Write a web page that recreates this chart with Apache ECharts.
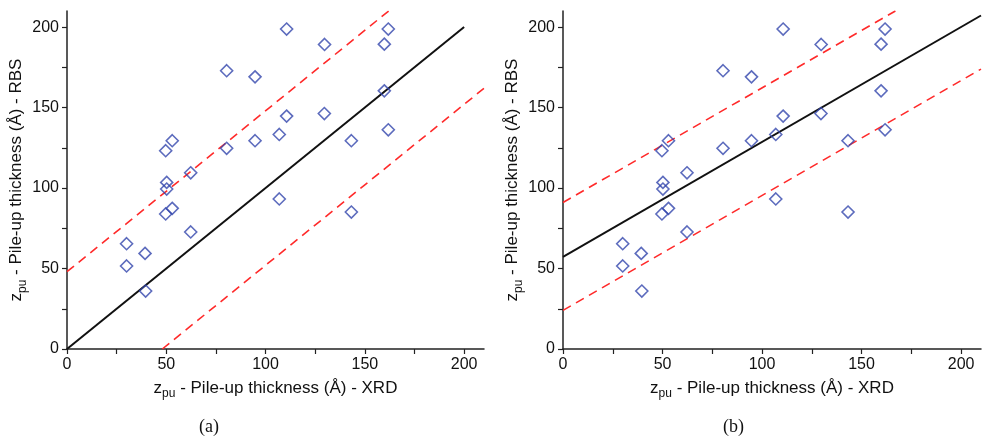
<!DOCTYPE html>
<html>
<head>
<meta charset="utf-8">
<script src="https://cdn.jsdelivr.net/npm/echarts@6/dist/echarts.min.js"></script>
<style>
  html, body { margin: 0; padding: 0; background: #fff; }
  #chart { width: 982px; height: 440px; }
</style>
</head>
<body>
<div id="chart"></div>
<script>
// same measurements in both panels: [XRD, RBS]
var xrd = [30, 30, 39.3, 39.6, 49.7, 53, 50.2, 50.2, 62.3, 49.7, 53, 62.3,
           80.4, 80.4, 94.7, 94.7, 110.6, 110.6, 106.9, 106.9, 129.7, 129.6,
           143.2, 143.2, 159.8, 159.8, 161.8, 161.8];
var rbs = [65.4, 51.6, 59.4, 36, 123.2, 129.4, 103.5, 99.4, 109.5, 83.9, 87.4, 72.7,
           172.9, 124.7, 169.1, 129.4, 198.8, 144.7, 133.3, 93.2, 189.2, 146.3,
           129.4, 85.1, 189.4, 160.4, 198.8, 136.2];

// (a) y = x with +/- 48 band
var fitA = [[0, 0], [200, 200]];
var upperA = [[0, 48], [162, 210]];
var lowerA = [[48, 0], [210, 162]];

// (b) linear fit with band
var fitB = [[0, 57.3], [210, 207.2]];
var upperB = [[0, 91], [167, 210]];
var lowerB = [[0, 24], [210, 173.9]];

var tickValues = [0, 25, 50, 75, 100, 125, 150, 175, 200];
var labelValues = [0, 50, 100, 150, 200];

var points = xrd.map(function (x, i) { return [x, rbs[i]]; });

var richName = {
    m: { fontSize: 17, lineHeight: 24, verticalAlign: 'middle', color: '#111' },
    s: { fontSize: 12, lineHeight: 10, verticalAlign: 'bottom', color: '#111' }
};

function makeAxis(idx, isX) {
    return {
        type: 'value',
        gridIndex: idx,
        min: 0,
        max: 210,
        name: isX ? '{m|z}{s|pu}{m| - Pile-up thickness (Å) - XRD}'
                  : '{m|z}{s|pu}{m| - Pile-up thickness (Å) - RBS}',
        nameLocation: 'middle',
        nameGap: isX ? 27 : 36,
        nameTextStyle: { fontFamily: 'Liberation Sans', rich: richName },
        axisLine: { show: true, onZero: false, lineStyle: { color: '#222', width: 1.5 } },
        axisTick: { show: true, inside: false, length: 5, customValues: tickValues,
                    lineStyle: { color: '#222', width: 1.2 } },
        axisLabel: { customValues: labelValues, margin: 8, fontSize: 16,
                     fontFamily: 'Liberation Sans', color: '#111' },
        splitLine: { show: false }
    };
}

function lineSeries(idx, data, color, type, width) {
    return {
        type: 'line',
        xAxisIndex: idx,
        yAxisIndex: idx,
        data: data,
        showSymbol: false,
        symbol: 'none',
        silent: true,
        lineStyle: { color: color, type: type, width: width },
        z: 1
    };
}

function scatterSeries(idx) {
    return {
        type: 'scatter',
        xAxisIndex: idx,
        yAxisIndex: idx,
        data: points,
        symbol: 'diamond',
        symbolSize: 12,
        itemStyle: { color: 'rgba(0,0,0,0)', borderColor: '#3346ad', borderWidth: 1.6 },
        z: 3
    };
}

var myChart = echarts.init(document.getElementById('chart'));
var option = {
    animation: false,
    backgroundColor: '#fff',
    grid: [
        { left: 67, top: 11, width: 417, height: 338 },
        { left: 563, top: 11, width: 418, height: 338 }
    ],
    xAxis: [makeAxis(0, true), makeAxis(1, true)],
    yAxis: [makeAxis(0, false), makeAxis(1, false)],
    graphic: [
        { type: 'text', left: 199, top: 418,
          style: { text: '(a)', font: '18px "Liberation Serif"', fill: '#111' } },
        { type: 'text', left: 723, top: 418,
          style: { text: '(b)', font: '18px "Liberation Serif"', fill: '#111' } }
    ],
    series: [
        lineSeries(0, upperA, '#ff2a2a', [9, 6], 1.6),
        lineSeries(0, lowerA, '#ff2a2a', [9, 6], 1.6),
        lineSeries(0, fitA, '#111', 'solid', 2),
        scatterSeries(0),
        lineSeries(1, upperB, '#ff2a2a', [9, 6], 1.6),
        lineSeries(1, lowerB, '#ff2a2a', [9, 6], 1.6),
        lineSeries(1, fitB, '#111', 'solid', 2),
        scatterSeries(1)
    ]
};
myChart.setOption(option);
window.addEventListener('resize', function () {
    myChart.resize();
});
</script>
</body>
</html>
